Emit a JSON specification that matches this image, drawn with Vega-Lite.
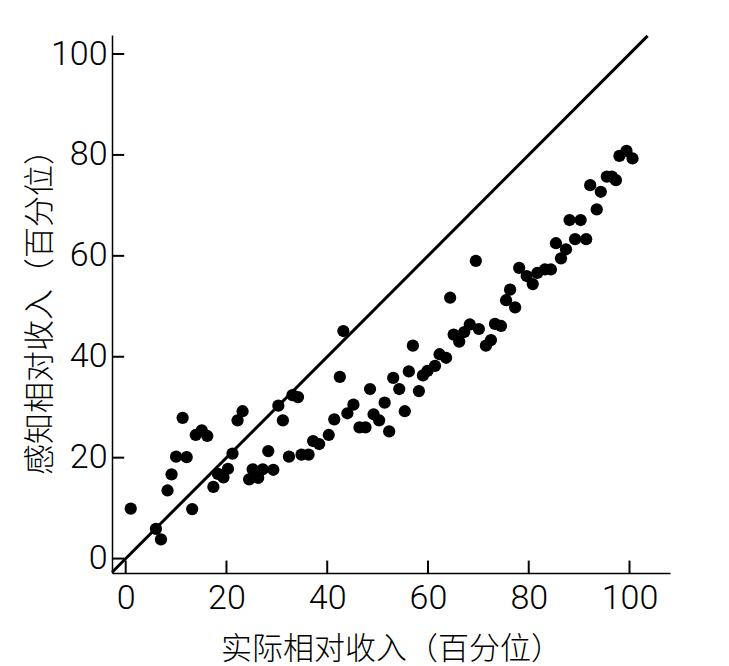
{
  "$schema": "https://vega.github.io/schema/vega-lite/v6.json",
  "description": "感知相对收入 vs 实际相对收入 scatter",
  "autosize": {"type": "none"},
  "padding": {"left": 112, "top": 35, "right": 59, "bottom": 93},
  "width": 558,
  "height": 538,
  "background": "white",
  "config": {
    "view": {"stroke": null},
    "axis": {
      "grid": false,
      "ticks": false,
      "domainColor": "black",
      "domainWidth": 1.5,
      "labelFont": "Roboto",
      "labelFontWeight": 300,
      "labelFontSize": 34,
      "labelColor": "black",
      "titleFont": "Noto Sans CJK SC",
      "titleFontWeight": 300,
      "titleFontSize": 31,
      "titleColor": "black"
    }
  },
  "layer": [
    {
      "data": {"values": [{"v": 0}, {"v": 20}, {"v": 40}, {"v": 60}, {"v": 80}, {"v": 100}]},
      "mark": {"type": "rule", "color": "#000000", "strokeWidth": 2},
      "encoding": {
        "x": {"field": "v", "type": "quantitative"},
        "y": {"datum": -2.86},
        "y2": {"datum": -0.4}
      }
    },
    {
      "data": {"values": [{"v": 0}, {"v": 20}, {"v": 40}, {"v": 60}, {"v": 80}, {"v": 100}]},
      "mark": {"type": "rule", "color": "#000000", "strokeWidth": 2},
      "encoding": {
        "y": {"field": "v", "type": "quantitative"},
        "x": {"datum": -2.72},
        "x2": {"datum": -0.3}
      }
    },
    {
      "data": {"values": [{"actual": -2.7, "perceived": -2.7}, {"actual": 103.6, "perceived": 103.6}]},
      "mark": {"type": "line", "color": "black", "strokeWidth": 3, "clip": false},
      "encoding": {
        "x": {"field": "actual", "type": "quantitative"},
        "y": {"field": "perceived", "type": "quantitative"}
      }
    },
    {
      "data": {
        "values": [
          {"actual": 1.0, "perceived": 9.9}, {"actual": 6.0, "perceived": 5.9}, {"actual": 7.0, "perceived": 3.8},
          {"actual": 8.3, "perceived": 13.5}, {"actual": 9.1, "perceived": 16.7}, {"actual": 10.0, "perceived": 20.2},
          {"actual": 11.3, "perceived": 27.9}, {"actual": 12.1, "perceived": 20.1}, {"actual": 13.2, "perceived": 9.8},
          {"actual": 13.9, "perceived": 24.5}, {"actual": 15.1, "perceived": 25.4}, {"actual": 16.2, "perceived": 24.3},
          {"actual": 17.4, "perceived": 14.2}, {"actual": 18.3, "perceived": 16.8}, {"actual": 19.4, "perceived": 16.1},
          {"actual": 20.3, "perceived": 17.8}, {"actual": 21.2, "perceived": 20.8}, {"actual": 22.2, "perceived": 27.4},
          {"actual": 23.2, "perceived": 29.2}, {"actual": 24.5, "perceived": 15.7}, {"actual": 25.2, "perceived": 17.7},
          {"actual": 26.3, "perceived": 16.0}, {"actual": 27.2, "perceived": 17.7}, {"actual": 28.3, "perceived": 21.3},
          {"actual": 29.3, "perceived": 17.6}, {"actual": 30.3, "perceived": 30.3}, {"actual": 31.2, "perceived": 27.4},
          {"actual": 32.4, "perceived": 20.2}, {"actual": 33.1, "perceived": 32.4}, {"actual": 34.2, "perceived": 32.0},
          {"actual": 34.9, "perceived": 20.6}, {"actual": 36.3, "perceived": 20.6}, {"actual": 37.2, "perceived": 23.3},
          {"actual": 38.4, "perceived": 22.7}, {"actual": 40.3, "perceived": 24.5}, {"actual": 41.4, "perceived": 27.6},
          {"actual": 42.5, "perceived": 36.0}, {"actual": 43.2, "perceived": 45.1}, {"actual": 44.0, "perceived": 28.8},
          {"actual": 45.2, "perceived": 30.5}, {"actual": 46.4, "perceived": 26.0}, {"actual": 47.6, "perceived": 26.0},
          {"actual": 48.5, "perceived": 33.6}, {"actual": 49.2, "perceived": 28.6}, {"actual": 50.3, "perceived": 27.4},
          {"actual": 51.4, "perceived": 30.9}, {"actual": 52.3, "perceived": 25.2}, {"actual": 53.1, "perceived": 35.8},
          {"actual": 54.3, "perceived": 33.6}, {"actual": 55.4, "perceived": 29.2}, {"actual": 56.2, "perceived": 37.1},
          {"actual": 57.0, "perceived": 42.2}, {"actual": 58.2, "perceived": 33.2}, {"actual": 59.0, "perceived": 36.3},
          {"actual": 59.9, "perceived": 37.2}, {"actual": 61.4, "perceived": 38.2}, {"actual": 62.3, "perceived": 40.5},
          {"actual": 63.6, "perceived": 39.8}, {"actual": 64.4, "perceived": 51.7}, {"actual": 65.1, "perceived": 44.4},
          {"actual": 66.2, "perceived": 43.0}, {"actual": 67.2, "perceived": 44.9}, {"actual": 68.3, "perceived": 46.4},
          {"actual": 69.5, "perceived": 59.0}, {"actual": 70.1, "perceived": 45.5}, {"actual": 71.5, "perceived": 42.2},
          {"actual": 72.5, "perceived": 43.3}, {"actual": 73.3, "perceived": 46.5}, {"actual": 74.5, "perceived": 46.1},
          {"actual": 75.5, "perceived": 51.2}, {"actual": 76.3, "perceived": 53.3}, {"actual": 77.3, "perceived": 49.8},
          {"actual": 78.1, "perceived": 57.6}, {"actual": 79.6, "perceived": 56.0}, {"actual": 80.8, "perceived": 54.4},
          {"actual": 81.7, "perceived": 56.6}, {"actual": 83.2, "perceived": 57.3}, {"actual": 84.4, "perceived": 57.3},
          {"actual": 85.4, "perceived": 62.5}, {"actual": 86.4, "perceived": 59.5}, {"actual": 87.4, "perceived": 61.3},
          {"actual": 88.1, "perceived": 67.1}, {"actual": 89.2, "perceived": 63.3}, {"actual": 90.3, "perceived": 67.1},
          {"actual": 91.4, "perceived": 63.3}, {"actual": 92.2, "perceived": 74.0}, {"actual": 93.5, "perceived": 69.2},
          {"actual": 94.3, "perceived": 72.7}, {"actual": 95.5, "perceived": 75.7}, {"actual": 96.5, "perceived": 75.7},
          {"actual": 97.3, "perceived": 75.0}, {"actual": 98.0, "perceived": 79.8}, {"actual": 99.4, "perceived": 80.8},
          {"actual": 100.6, "perceived": 79.3}
        ]
      },
      "mark": {"type": "circle", "color": "black", "opacity": 1, "size": 150},
      "encoding": {
        "x": {
          "field": "actual",
          "type": "quantitative",
          "scale": {"domain": [-2.72, 108.04], "nice": false, "zero": false},
          "axis": {"values": [0, 20, 40, 60, 80, 100], "labelPadding": 8, "titlePadding": 19, "title": "实际相对收入（百分位）"}
        },
        "y": {
          "field": "perceived",
          "type": "quantitative",
          "scale": {"domain": [-2.86, 103.77], "nice": false, "zero": false},
          "axis": {"values": [0, 20, 40, 60, 80, 100], "labelPadding": 5, "titlePadding": -6, "title": "感知相对收入（百分位）"}
        }
      }
    }
  ]
}
